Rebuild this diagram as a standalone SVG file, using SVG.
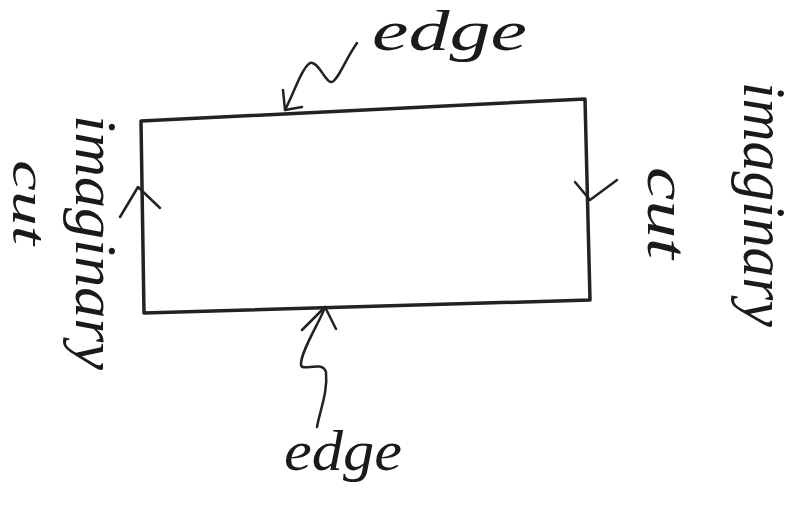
<svg xmlns="http://www.w3.org/2000/svg" width="807" height="508" viewBox="0 0 807 508">
<style>
.ln{fill:none;stroke:#222;stroke-linecap:round;stroke-linejoin:round}
.box{stroke-width:3.5}
.ar{stroke-width:2.5}
.t{font-family:"Liberation Serif",serif;font-style:italic;fill:#1a1a1a}
</style>
<rect width="807" height="508" fill="#fff"/>
<g id="rectangle">
<path class="ln box" d="M141,121 L585,99 M141,121 L144,313 M144,313 L590,300 M585,99 L590,300"/>
</g>
<g id="connectors">
<path class="ln ar" d="M357,43 C345,60 338,80 332,82 C326,84 318,60 310,63 C302,68 295,90 285,110"/>
<path class="ln ar" d="M283,90 L285,110 L302,107"/>
<path class="ln ar" d="M325,307 C322,318 300,352 301,365 C302,372 322,360 326,372 C328,392 320,410 317,427"/>
<path class="ln ar" d="M302,330 L325,307 L336,329"/>
<path class="ln ar" d="M120,217 L138,187 L160,208"/>
<path class="ln ar" d="M575,182 L590,200 L617,180"/>
</g>
<g id="label-top-edge">
<text class="t" x="372" y="50" font-size="56" textLength="155" lengthAdjust="spacingAndGlyphs">edge</text>
</g>
<g id="label-bottom-edge">
<text class="t" x="284" y="470" font-size="58" textLength="118" lengthAdjust="spacingAndGlyphs">edge</text>
</g>
<g id="label-left-imaginary">
<text class="t" font-size="60" textLength="255" lengthAdjust="spacingAndGlyphs" transform="translate(76,115) rotate(90)">imaginary</text>
</g>
<g id="label-left-cut">
<text class="t" font-size="48" textLength="85" lengthAdjust="spacingAndGlyphs" transform="translate(13,160) rotate(90)">cut</text>
</g>
<g id="label-right-cut">
<text class="t" font-size="58" textLength="92" lengthAdjust="spacingAndGlyphs" transform="translate(648,167) rotate(90)">cut</text>
</g>
<g id="label-right-imaginary">
<text class="t" font-size="62" textLength="245" lengthAdjust="spacingAndGlyphs" transform="translate(744,82) rotate(90)">imaginary</text>
</g>
</svg>
